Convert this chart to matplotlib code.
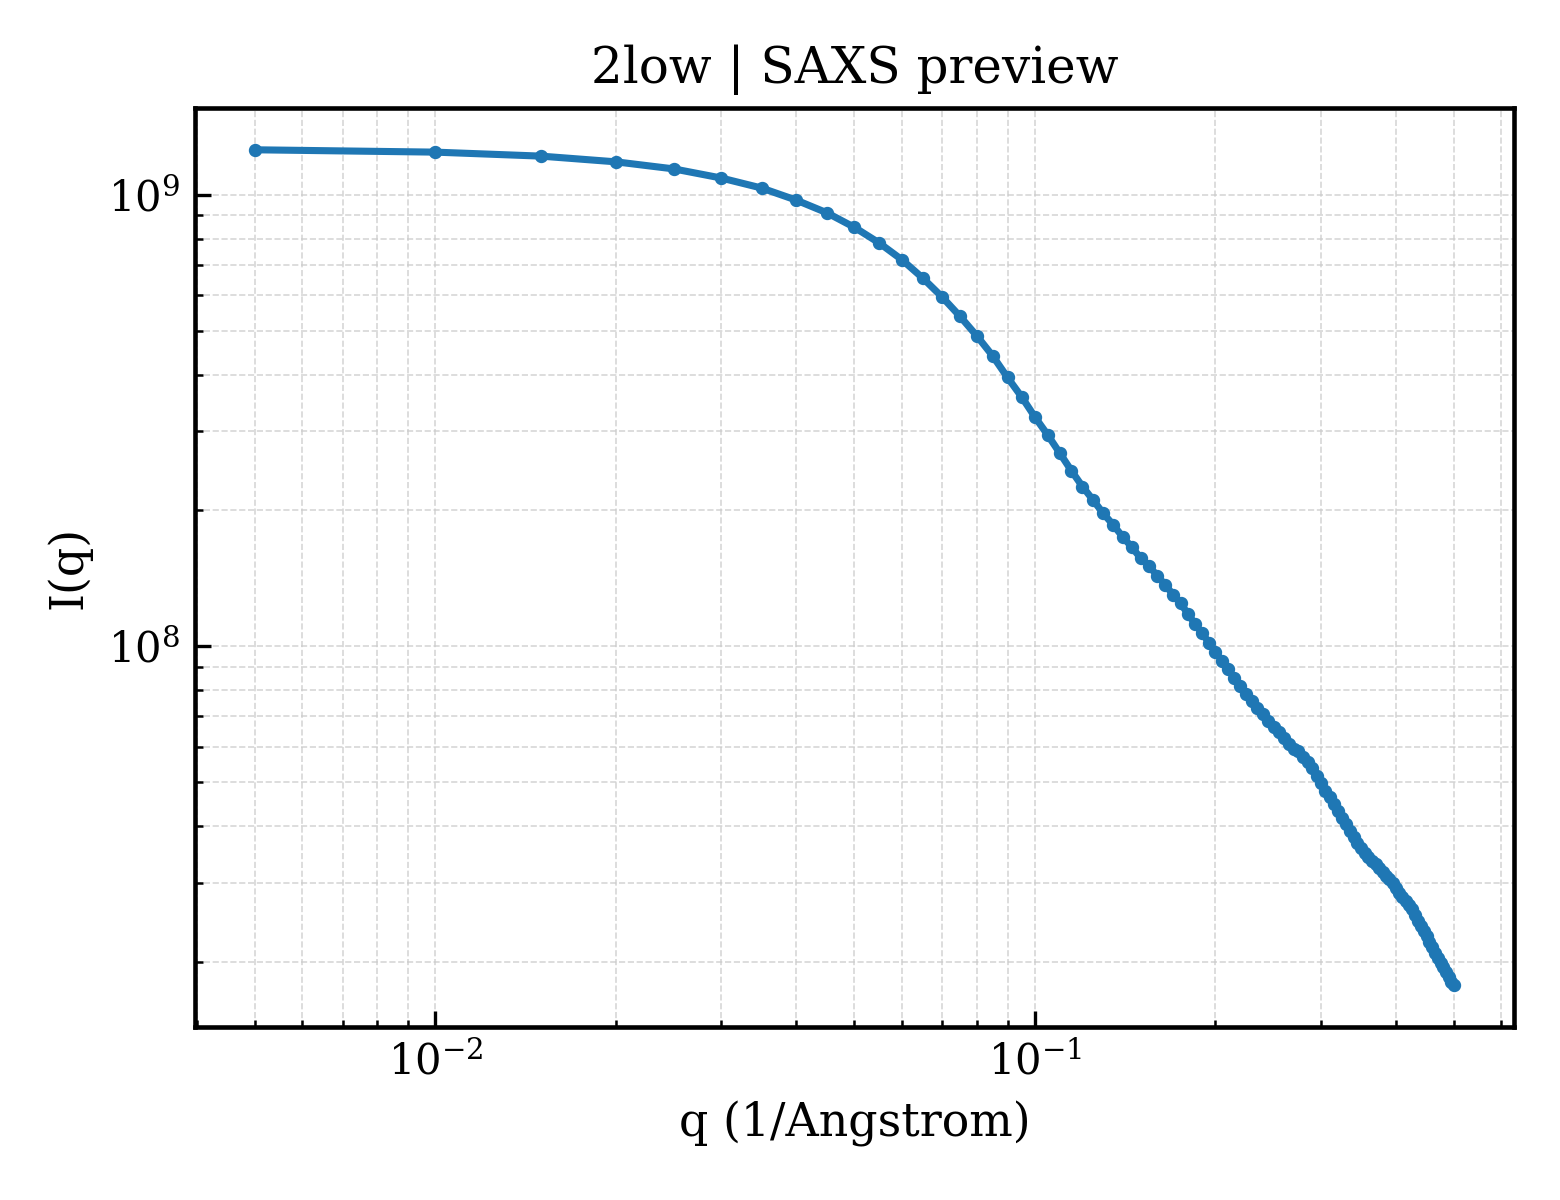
import numpy as np
import matplotlib
matplotlib.use("Agg")
import matplotlib.pyplot as plt

q = [0.005, 0.010, 0.015, 0.020, 0.025, 0.030, 0.035, 0.040, 0.045, 0.050,
     0.055, 0.060, 0.065, 0.070, 0.075, 0.080, 0.085, 0.090, 0.095, 0.100,
     0.105, 0.110, 0.115, 0.120, 0.125, 0.130, 0.135, 0.140, 0.145, 0.150,
     0.155, 0.160, 0.165, 0.170, 0.175, 0.180, 0.185, 0.190, 0.195, 0.200,
     0.205, 0.210, 0.215, 0.220, 0.225, 0.230, 0.235, 0.240, 0.245, 0.250,
     0.255, 0.260, 0.265, 0.270, 0.275, 0.280, 0.285, 0.290, 0.295, 0.300,
     0.305, 0.310, 0.315, 0.320, 0.325, 0.330, 0.335, 0.340, 0.345, 0.350,
     0.355, 0.360, 0.365, 0.370, 0.375, 0.380, 0.385, 0.390, 0.395, 0.400,
     0.405, 0.410, 0.415, 0.420, 0.425, 0.430, 0.435, 0.440, 0.445, 0.450,
     0.455, 0.460, 0.465, 0.470, 0.475, 0.480, 0.485, 0.490, 0.495, 0.500]

# intensity in units of 1e6
intensity_m = [1258, 1243, 1218, 1183, 1141, 1089, 1035, 973, 912, 847,
               782, 718, 654, 594, 538, 487, 440, 394, 357, 322,
               294, 268, 245, 226, 211, 197, 186, 175, 166, 157,
               151, 143, 137, 130, 124.5, 118, 112, 107, 102, 97.3,
               92.9, 89.1, 85.2, 81.8, 78.4, 75.7, 73.2, 70.7, 68.4, 66.4,
               64.5, 62.6, 60.9, 59.3, 58.6, 57.0, 55.4, 53.7, 51.6, 49.8,
               47.9, 46.3, 44.8, 43.3, 41.8, 40.4, 39.1, 37.8, 36.8, 35.7,
               34.9, 34.1, 33.5, 32.9, 32.3, 31.7, 31.1, 30.5, 29.9, 29.2,
               28.5, 27.9, 27.3, 26.8, 26.2, 25.4, 24.7, 24.0, 23.4, 22.8,
               22.2, 21.6, 21.0, 20.4, 19.96, 19.5, 19.0, 18.5, 18.1, 17.76]

I = np.array(intensity_m) * 1e6

plt.rcParams['font.family'] = ['DejaVu Serif']
plt.rcParams['axes.linewidth'] = 1.1

fig, ax = plt.subplots(figsize=(5.2, 4), dpi=300)
fig.subplots_adjust(left=0.125, right=0.9705, top=0.91, bottom=0.144)

ax.plot(q, I, color='#1f77b4', linewidth=1.7, marker='o', markersize=2.2)
ax.set_xscale('log')
ax.set_yscale('log')

ax.grid(True, which='both', linestyle='--', linewidth=0.4, color='#cccccc', alpha=0.8)
ax.tick_params(which='both', direction='in')
ax.tick_params(which='major', labelsize=10, length=3.8)
ax.tick_params(which='minor', length=1.8)

ax.set_xlabel('q (1/Angstrom)', fontsize=11)
ax.set_ylabel('I(q)', fontsize=11)
ax.set_title('2low | SAXS preview', fontsize=12)

fig.savefig('out.png', dpi=300)
